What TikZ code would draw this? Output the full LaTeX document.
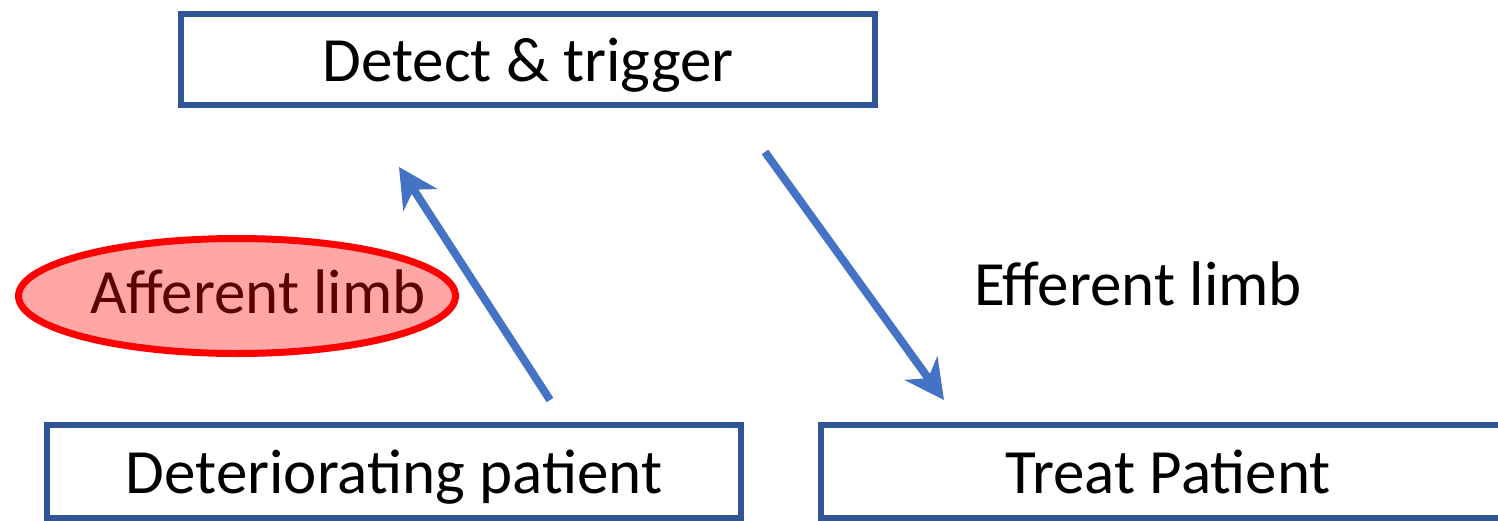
\documentclass[tikz,border=0pt]{standalone}
\usepackage{fontspec}
\setmainfont{Carlito}
\usetikzlibrary{shapes.geometric,arrows.meta}
\definecolor{boxblue}{HTML}{2F5597}
\definecolor{arrowblue}{HTML}{4472C4}
\definecolor{ellfill}{HTML}{FFA7A7}
\definecolor{elltext}{HTML}{5C0000}
\begin{document}
\begin{tikzpicture}[x=1pt,y=-1pt,
  stepbox/.style={draw=boxblue,line width=6.5pt,fill=white,minimum width=694pt,minimum height=91pt,inner sep=0pt,
    font=\fontsize{63}{70}\selectfont,text height=44pt,text depth=0pt},
  flow/.style={draw=arrowblue,line width=8pt,-{Stealth[length=39pt,width=40pt,inset=12pt]}},
  limbtext/.style={font=\fontsize{63}{70}\selectfont}]
\useasboundingbox (0,0) rectangle (1498,520);
\begin{scope}
\clip (0,0) rectangle (1498,520);
\node[stepbox] (detect) at (528,59.5) {Detect \& trigger};
\node[stepbox,minimum height=93pt] (deter) at (394,471.5) {Deteriorating patient};
\node[stepbox,minimum height=93pt] (treat) at (1168,471.5) {Treat Patient};
\node[ellipse,draw=red,line width=7pt,fill=ellfill,minimum width=437pt,minimum height=115pt,inner sep=0pt,
  limbtext,text=elltext,text height=34pt,text depth=0pt] (aff) at (237,296) {\makebox[0pt][c]{\hspace*{42pt}Afferent limb}};
\node[limbtext,anchor=base] (eff) at (1138,305) {Efferent limb};
\coordinate (a1s) at (550,400);
\coordinate (a1e) at (399,167);
\coordinate (a2s) at (765,152);
\coordinate (a2e) at (944,400);
\draw[flow] (a1s) -- (a1e);
\draw[flow] (a2s) -- (a2e);
\end{scope}
\end{tikzpicture}
\end{document}
